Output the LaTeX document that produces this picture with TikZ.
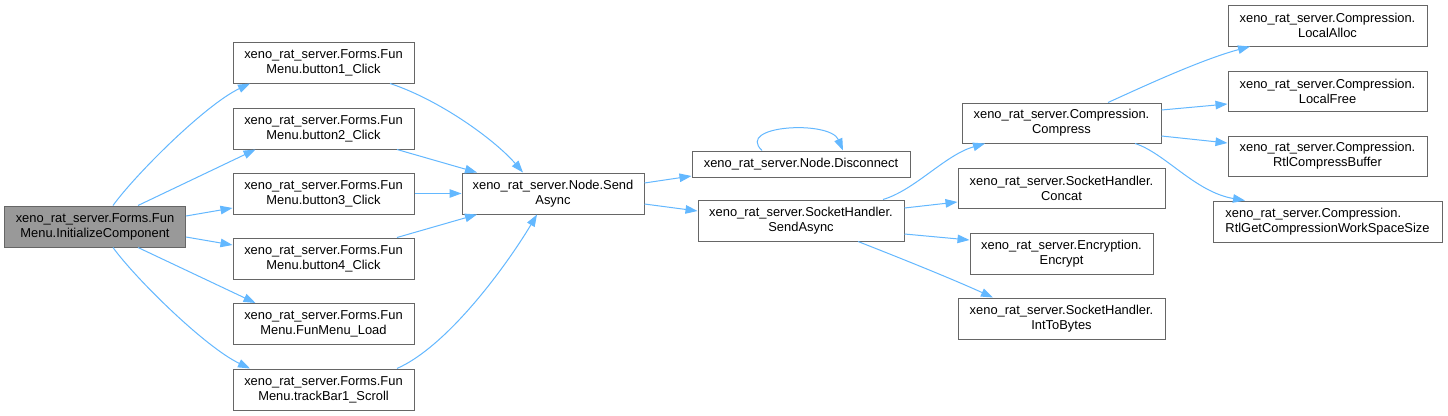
\documentclass[tikz,border=0pt]{standalone}
\usepackage{fontspec}
\setmainfont{Liberation Sans}
\usetikzlibrary{arrows.meta}
\definecolor{edgec}{RGB}{99,184,255}
\definecolor{boxline}{RGB}{102,102,102}
\definecolor{rootfill}{RGB}{153,153,153}
\tikzset{
  fn/.style={draw=boxline, line width=1pt, fill=white, inner sep=0pt, align=center,
    font=\fontsize{12.9}{15}\selectfont},
  rootfn/.style={fn, fill=rootfill},
  calls/.style={draw=edgec, line width=1pt, -{Triangle[length=12pt,width=8.5pt]}},
}
\begin{document}
\begin{tikzpicture}[x=1pt,y=-1pt]
\useasboundingbox[fill=white] (0,0) rectangle (1448,415);
% column 1
\node[rootfn, minimum width=181pt, minimum height=41pt] (root) at (95,226.5) {xeno\_rat\_server.Forms.Fun\\Menu.InitializeComponent};
% column 2
\node[fn, minimum width=181pt, minimum height=41pt] (b1) at (323.5,62.5) {xeno\_rat\_server.Forms.Fun\\Menu.button1\_Click};
\node[fn, minimum width=181pt, minimum height=41pt] (b2) at (323.5,128.5) {xeno\_rat\_server.Forms.Fun\\Menu.button2\_Click};
\node[fn, minimum width=181pt, minimum height=41pt] (b3) at (323.5,193.5) {xeno\_rat\_server.Forms.Fun\\Menu.button3\_Click};
\node[fn, minimum width=181pt, minimum height=41pt] (b4) at (323.5,258.5) {xeno\_rat\_server.Forms.Fun\\Menu.button4\_Click};
\node[fn, minimum width=181pt, minimum height=41pt] (load) at (323.5,324) {xeno\_rat\_server.Forms.Fun\\Menu.FunMenu\_Load};
\node[fn, minimum width=181pt, minimum height=41pt] (track) at (323.5,389.5) {xeno\_rat\_server.Forms.Fun\\Menu.trackBar1\_Scroll};
% column 3
\node[fn, minimum width=182pt, minimum height=41pt] (send) at (553,193.5) {xeno\_rat\_server.Node.Send\\Async};
% column 4
\node[fn, minimum width=218pt, minimum height=26pt] (disc) at (801,164) {xeno\_rat\_server.Node.Disconnect};
\node[fn, minimum width=206pt, minimum height=41pt] (sh) at (801,220.5) {xeno\_rat\_server.SocketHandler.\\SendAsync};
% column 5
\node[fn, minimum width=199pt, minimum height=40pt] (comp) at (1061.5,123) {xeno\_rat\_server.Compression.\\Compress};
\node[fn, minimum width=207pt, minimum height=40pt] (concat) at (1061.5,188) {xeno\_rat\_server.SocketHandler.\\Concat};
\node[fn, minimum width=183pt, minimum height=41pt] (encrypt) at (1061.5,253.5) {xeno\_rat\_server.Encryption.\\Encrypt};
\node[fn, minimum width=207pt, minimum height=41pt] (int) at (1061.5,318.5) {xeno\_rat\_server.SocketHandler.\\IntToBytes};
% column 6
\node[fn, minimum width=199pt, minimum height=41pt] (alloc) at (1327.5,25.5) {xeno\_rat\_server.Compression.\\LocalAlloc};
\node[fn, minimum width=199pt, minimum height=40pt] (free) at (1327.5,91) {xeno\_rat\_server.Compression.\\LocalFree};
\node[fn, minimum width=199pt, minimum height=40pt] (rtlcb) at (1327.5,156) {xeno\_rat\_server.Compression.\\RtlCompressBuffer};
\node[fn, minimum width=229pt, minimum height=41pt, align=left] (rtlget) at (1327.5,221.5) {xeno\_rat\_server.Compression.\\RtlGetCompressionWorkSpaceSize};
% edges from root
\draw[calls] ([xshift=18pt]root.north) .. controls (135,175) and (205,105) .. ([xshift=-73.5pt]b1.south);
\draw[calls] ([xshift=43pt]root.north) -- ([xshift=-68pt]b2.south);
\draw[calls] ([yshift=10.5pt]root.east) -- ([yshift=-14.5pt]b3.west);
\draw[calls] ([yshift=-10.5pt]root.east) -- ([yshift=13.5pt]b4.west);
\draw[calls] ([xshift=43pt]root.south) -- ([xshift=-68pt]load.north);
\draw[calls] ([xshift=18pt]root.south) .. controls (135,278) and (205,347) .. ([xshift=-73.5pt]track.north);
% edges to Node.SendAsync
\draw[calls] ([xshift=66.5pt]b1.south) .. controls (440,100) and (495,140) .. ([xshift=-30pt]send.north);
\draw[calls] ([xshift=73.5pt]b2.south) -- ([xshift=-76pt]send.north);
\draw[calls] (b3.east) -- (send.west);
\draw[calls] ([xshift=73.5pt]b4.north) -- ([xshift=-76pt]send.south);
\draw[calls] ([xshift=73.5pt]track.north) .. controls (450,345) and (510,260) .. ([xshift=-16pt]send.south);
% from Node.SendAsync
\draw[calls] ([yshift=10.5pt]send.east) -- ([yshift=-12pt]disc.west);
\draw[calls] ([yshift=-10.5pt]send.east) -- ([yshift=9.5pt]sh.west);
\draw[calls] ([xshift=-39pt]disc.north) .. controls (735,125) and (830,120) .. ([xshift=42pt]disc.north);
% from SocketHandler.SendAsync
\draw[calls] ([xshift=82pt]sh.north) .. controls (915,190) and (945,155) .. ([xshift=-76.5pt]comp.south);
\draw[calls] ([yshift=12.5pt]sh.east) -- ([yshift=-14pt]concat.west);
\draw[calls] ([yshift=-13.5pt]sh.east) -- ([yshift=13.5pt]encrypt.west);
\draw[calls] ([xshift=57pt]sh.south) .. controls (900,258) and (950,278) .. ([xshift=-68.5pt]int.north);
% from Compress
\draw[calls] ([xshift=46.5pt]comp.north) .. controls (1140,88) and (1200,60) .. ([xshift=-77.5pt]alloc.south);
\draw[calls] ([yshift=13pt]comp.east) -- ([yshift=-13pt]free.west);
\draw[calls] ([yshift=-13pt]comp.east) -- ([yshift=13pt]rtlcb.west);
\draw[calls] ([xshift=73.5pt]comp.south) .. controls (1165,153) and (1195,192) .. ([xshift=-82.5pt]rtlget.north);
\end{tikzpicture}
\end{document}
